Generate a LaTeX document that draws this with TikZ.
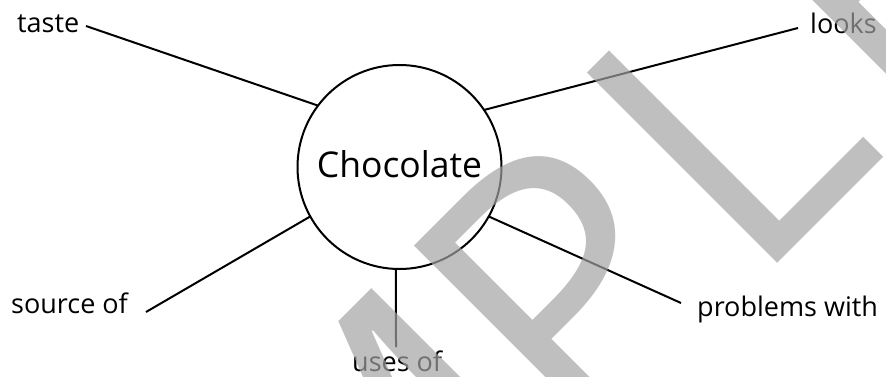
\documentclass[tikz,border=0pt]{standalone}
\usepackage{fontspec}
\setmainfont{Open Sans}
\definecolor{wmgray}{RGB}{163,163,163}
\begin{document}
\begin{tikzpicture}[x=1pt,y=-1pt,
  lbl/.style={font=\fontsize{27}{32}\selectfont, anchor=base west, inner sep=0pt},
  spoke/.style={line width=2pt, line cap=butt},
  hub/.style={circle, draw, line width=2pt, minimum size=204pt, inner sep=0pt, outer sep=0pt,
    font=\fontsize{35.5}{40}\selectfont, text height=20pt, text depth=0pt},
  wm/.style={font=\fontsize{377}{400}\selectfont, anchor=base west, inner sep=0pt, outer sep=0pt,
    rotate=45, text=wmgray, text opacity=0.69}]
\fill[white] (0,0) rectangle (886,377);
\useasboundingbox (0,0) rectangle (886,377);

\node[hub] (c) at (399.5,167) {Chocolate};

\node[lbl] (taste) at (17,33) {taste};
\node[lbl] (looks) at (810,34) {looks};
\node[lbl] (source) at (11,313) {source of};
\node[lbl] (uses) at (352,371.5) {uses of};
\node[lbl] (problems) at (697,316) {problems with};

\coordinate (tasteE) at (86,26);
\coordinate (looksE) at (798,28);
\coordinate (sourceE) at (146,312);
\coordinate (usesE) at (396,347);
\coordinate (problemsE) at (681,303);

\draw[spoke] (tasteE) -- (c.143);
\draw[spoke] (looksE) -- (c.34.1);
\draw[spoke] (sourceE) -- (c.209.3);
\draw[spoke] (usesE) -- (c.268.3);
\draw[spoke] (problemsE) -- (c.331.5);

% watermark
\node[wm] (wmS) at (32.6,1008.4) {S};
\node[wm] (wmA) at (178.3,862.7) {A};
\node[wm] (wmM) at (347.3,693.7) {M};
\node[wm] (wmP) at (578.5,462.5) {P};
\node[wm] (wmL) at (751.7,289.3) {L};
\node[wm] (wmE) at (900.9,140.1) {E};
\end{tikzpicture}
\end{document}
